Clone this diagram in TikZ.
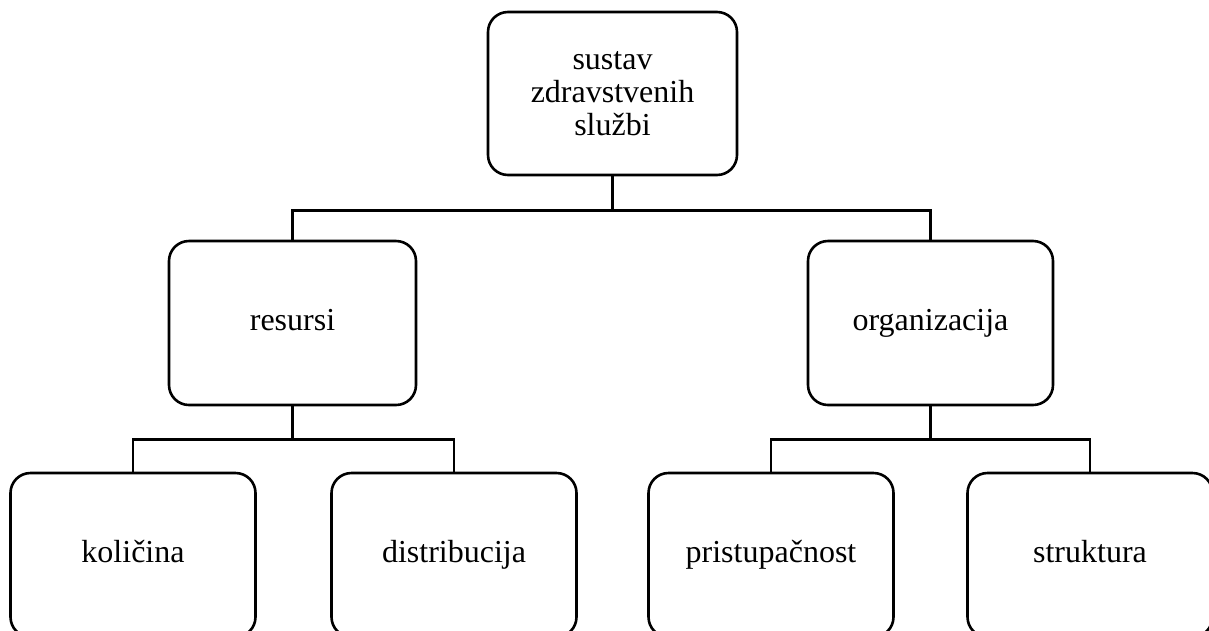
\documentclass[tikz,border=0pt]{standalone}
\usepackage{fontspec}
\setmainfont{Liberation Serif}
\begin{document}
\begin{tikzpicture}[x=1pt,y=-1pt,
  box/.style={draw=black, line width=2.6pt, rounded corners=20pt, fill=white,
    minimum width=245pt, minimum height=164pt, inner sep=0pt, align=center,
    font=\fontsize{32}{33}\selectfont},
  onebox/.style={box, text height=22pt, text depth=7pt},
  link/.style={draw=black, line width=2.6pt}]
\useasboundingbox (0,0) rectangle (1209,630);
\clip (0,0) rectangle (1209,630);
\node[box, minimum width=249pt, minimum height=163pt] (top) at (612.5,93.5) {sustav\\zdravstvenih\\službi};
\node[onebox, minimum width=247pt] (res) at (292.5,323) {resursi};
\node[onebox] (org) at (930.5,323) {organizacija};
\node[onebox] (kol) at (133,555) {količina};
\node[onebox] (dis) at (454,555) {distribucija};
\node[onebox] (pri) at (771,555) {pristupačnost};
\node[onebox] (str) at (1090,555) {struktura};
\draw[link] (top.south) -- ++(0,34) -| (res.north);
\draw[link] (top.south) -- ++(0,34) -| (org.north);
\draw[link] (res.south) -- ++(0,33) -| (kol.north);
\draw[link] (res.south) -- ++(0,33) -| (dis.north);
\draw[link] (org.south) -- ++(0,33) -| (pri.north);
\draw[link] (org.south) -- ++(0,33) -| (str.north);
\end{tikzpicture}
\end{document}
